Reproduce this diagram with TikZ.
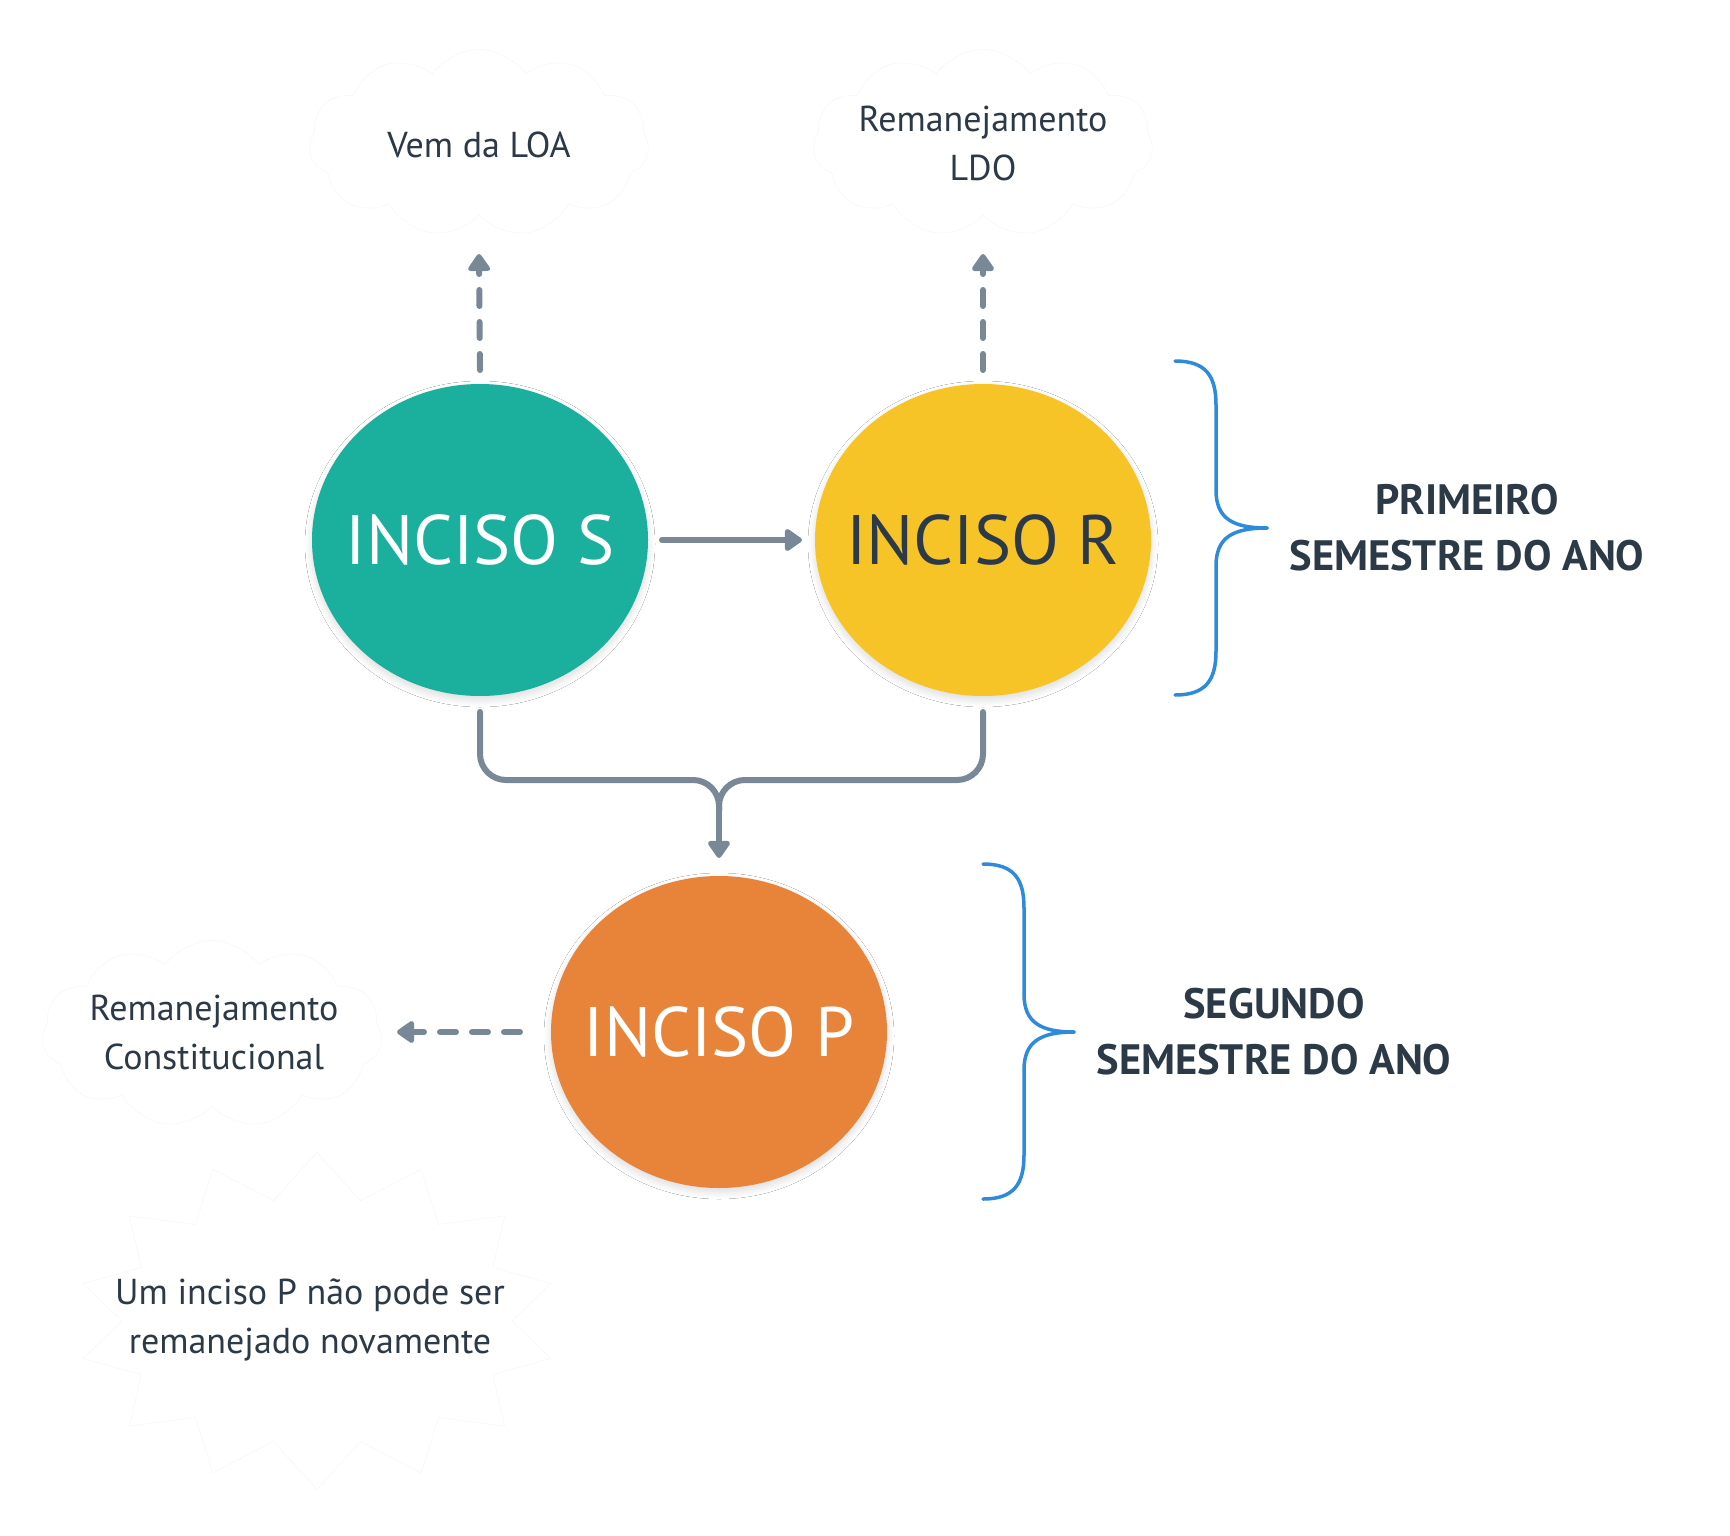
\documentclass[tikz,border=0pt]{standalone}
\usepackage{fontspec}
\setmainfont{PT Sans}
\usetikzlibrary{arrows.meta,shapes.symbols,shapes.geometric,shadows.blur,calc}
\definecolor{teal1}{HTML}{1BAF9E}
\definecolor{yel1}{HTML}{F7C427}
\definecolor{ora1}{HTML}{E8843A}
\definecolor{conn}{HTML}{788897}
\definecolor{txt}{HTML}{2C3A47}
\definecolor{brc}{HTML}{2E8BDB}
\newcommand{\ctr}[1]{\makebox[0pt]{\smash{\raisebox{-0.35em}{#1}}}}
\begin{document}
\begin{tikzpicture}[x=1pt,y=-1pt,
  blob/.style={ellipse,minimum width=336pt,minimum height=312pt,inner sep=0pt,outer sep=0pt,
    font=\fontsize{70}{74}\selectfont,
    blur shadow={shadow xshift=0pt,shadow yshift=-4pt,shadow blur radius=7pt,shadow blur steps=12,shadow opacity=14}},
  puff/.style={cloud,cloud puffs=11,cloud puff arc=110,aspect=1.8,fill=white,draw=black!4,
    minimum width=340pt,minimum height=187pt,inner sep=0pt},
  cloudtext/.style={align=center,text=txt,font=\fontsize{36}{49}\selectfont},
  conline/.style={draw=conn,line width=6pt,line cap=round},
  tip/.style={-{Triangle[length=19pt,width=25pt,round]}},
  dashline/.style={conline,dash pattern=on 16pt off 16pt},
  bracepath/.style={draw=brc,line width=3.5pt,line cap=round},
  semtext/.style={text=txt,font=\bfseries\fontsize{42.5}{56}\selectfont,align=center}]
\useasboundingbox (0,0) rectangle (1730,1536);
\fill[white] (0,0) rectangle (1730,1536);

% clouds
\node[puff] (loa) at (479,143) {};
\node[cloudtext] (loat) at (479,145) {Vem da LOA};
\node[puff] (ldo) at (983,143) {};
\node[cloudtext] (ldot) at (983,143) {Remanejamento\\LDO};
\node[puff] (const) at (212,1034) {};
\node[cloudtext] (constt) at (214,1032) {Remanejamento\\Constitucional};
\node[starburst,starburst points=14,starburst point height=45pt,random starburst=0,
  fill=white,draw=black!4,shape border rotate=8,
  minimum width=480pt,minimum height=337pt,inner sep=0pt] (burst) at (317,1321) {};
\node[cloudtext] (burstt) at (310,1320) {Um inciso P não pode ser\\remanejado novamente};

% circles
\node[blob,fill=teal1,text=white] (S) at (480,540) {\ctr{INCISO S}};
\node[blob,fill=yel1,text=txt] (R) at (983,540) {\ctr{INCISO R}};
\node[blob,fill=ora1,text=white] (P) at (719,1032) {\ctr{INCISO P}};

% connectors
\coordinate (mid) at (719,780);
\draw[conline,tip] ($(S.east)+(14,0)$) -- ($(R.west)+(-13,0)$);
\draw[dashline,tip] ($(S.north)+(0,-14)$) -- ($(loa.center)+(0,111)$);
\draw[dashline,tip] ($(R.north)+(0,-14)$) -- ($(ldo.center)+(0,111)$);
\draw[dashline,tip] ($(P.west)+(-31,0)$) -- ($(const.center)+(185,-2)$);
\draw[conline,rounded corners=26pt] ($(S.south)+(0,16)$) |- (mid) -- ++(0,30);
\draw[conline,rounded corners=26pt] ($(R.south)+(0,16)$) |- (mid) -- ++(0,30);
\draw[conline,tip] ($(mid)+(0,20)$) -- ($(P.north)+(0,-18)$);

% braces
\draw[bracepath] (1175,361) .. controls (1206,361) and (1216,376) .. (1216,405)
  -- (1216,490) .. controls (1216,518) and (1232,528) .. (1267,528);
\draw[bracepath] (1267,528) .. controls (1232,528) and (1216,538) .. (1216,566)
  -- (1216,651) .. controls (1216,680) and (1206,695) .. (1175,695);
\draw[bracepath] (983,864) .. controls (1014,864) and (1024,879) .. (1024,908)
  -- (1024,994) .. controls (1024,1022) and (1040,1032) .. (1074,1032);
\draw[bracepath] (1074,1032) .. controls (1040,1032) and (1024,1042) .. (1024,1070)
  -- (1024,1155) .. controls (1024,1184) and (1014,1199) .. (983,1199);

\node[semtext] (sem1) at (1467,528) {PRIMEIRO\\SEMESTRE DO ANO};
\node[semtext] (sem2) at (1274,1032) {SEGUNDO\\SEMESTRE DO ANO};
\end{tikzpicture}
\end{document}
